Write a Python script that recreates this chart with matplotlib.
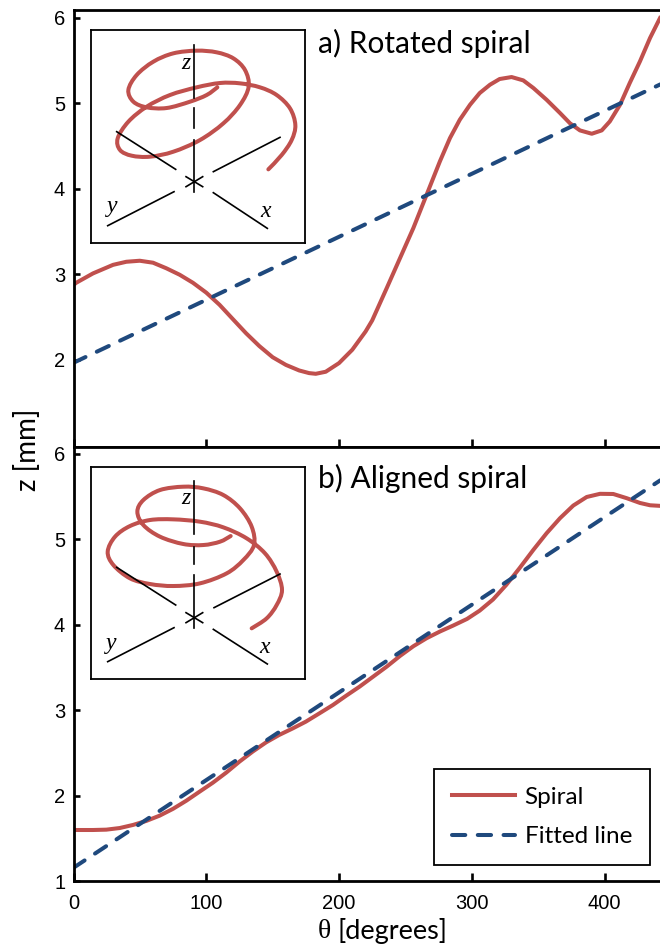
import matplotlib
matplotlib.use('Agg')
import matplotlib.pyplot as plt
from matplotlib.path import Path
from matplotlib.patches import PathPatch

# ---------- data ----------
theta_a = [0,2,14.7,29.8,39.8,49.9,59.9,69.9,80,90,100,110,120,130,140,150,160,170,177.5,182.5,190,200,210,220,225,236,246,256,266,276,283.6,291,298.7,306,313.7,321,330,338.8,346.4,356.4,366.5,374,381.5,390.4,397.9,404,411.7,419,426.7,434.3,441.8]
z_a = [2.875,2.90,3.01,3.11,3.146,3.158,3.135,3.07,2.994,2.90,2.785,2.643,2.476,2.31,2.16,2.03,1.94,1.875,1.844,1.836,1.86,1.961,2.117,2.33,2.46,2.84,3.19,3.54,3.93,4.32,4.593,4.807,4.982,5.119,5.216,5.283,5.306,5.267,5.178,5.04,4.885,4.765,4.682,4.643,4.682,4.787,4.982,5.236,5.489,5.763,5.996]
fit_x_a = [0,442]
fit_z_a = [1.965,5.22]

theta_b = [0,14.7,24.7,34.8,44.8,54.8,64.9,75,85,95,105,115,125,135,145.2,155,165,175,185,195.5,205.5,215.5,225.8,236,246,256,266,276,286,296.5,306,316,326,336,346.4,356.4,366.5,376.5,386.6,396.6,406.6,416.7,426.7,434.3,441.8]
z_b = [1.597,1.597,1.601,1.62,1.656,1.703,1.765,1.845,1.94,2.046,2.151,2.268,2.397,2.515,2.624,2.71,2.785,2.865,2.96,3.061,3.17,3.275,3.393,3.51,3.635,3.748,3.842,3.92,3.99,4.068,4.165,4.295,4.466,4.662,4.876,5.071,5.247,5.395,5.495,5.532,5.53,5.481,5.425,5.398,5.391]
fit_x_b = [0,442]
fit_z_b = [1.155,5.69]

x_ticks = [0,100,200,300,400]
y_ticks_a = [2,3,4,5,6]
y_ticks_b = [1,2,3,4,5,6]

# inset spirals, in inset sketch units
sp_a_x = [625,665,695,706,690,650,600,540,480,410,330,260,205,173,180,215,270,340,420,490,540,566,555,520,470,410,340,280,230,205,220,260,320,390,440,472]
sp_a_y = [508,465,420,375,325,285,262,250,249,262,285,320,365,415,450,467,470,455,420,370,315,260,210,175,157,152,160,185,225,270,305,322,324,305,285,262]
sp_b_x = [575,620,650,666,650,615,560,490,420,340,270,210,165,143,160,210,270,340,420,500,550,582,575,540,490,430,370,300,250,232,250,300,370,430,480,512]
sp_b_y = [565,535,495,450,395,340,295,262,245,238,240,258,290,335,375,415,432,438,430,400,360,315,260,205,165,145,140,150,180,215,255,290,312,315,305,288]

# inset axes lines (sketch units)
axes_a = [([403,403],[135,295]),([403,403],[325,385]),([403,403],[420,575]),
          ([143,342],[677,575]),([460,622],[578,685]),([170,347],[395,508]),([460,660],[515,412]),
          ([378,428],[530,560]),([378,428],[560,530])]
axes_b = [([403,403],[123,282]),([403,403],[322,373]),([403,403],[405,565]),
          ([143,342],[665,563]),([460,622],[568,672]),([170,347],[382,495]),([462,660],[503,402]),
          ([378,428],[518,548]),([378,428],[548,518])]

RED = '#C0504D'
BLUE = '#1F497D'
W, H = 660, 947
SANS = ['Lato', 'DejaVu Sans']
DASH = (3.3, 3.1)
LW = 2.9

fig = plt.figure(figsize=(W/100, H/100), dpi=100)

def rect(x0, y0, x1, y1):
    return [x0/W, 1 - y1/H, (x1-x0)/W, (y1-y0)/H]

def style(ax, yt, ylim):
    ax.set_xlim(0, 441.8)
    ax.set_ylim(*ylim)
    ax.set_xticks(x_ticks)
    ax.set_yticks(yt)
    ax.tick_params(axis='x', direction='in', length=6, width=1.9, labelsize=14.5, pad=9)
    ax.tick_params(axis='y', direction='in', length=4.5, width=1.9, labelsize=14.5, pad=6)
    for lab in ax.get_xticklabels() + ax.get_yticklabels():
        lab.set_family('Liberation Sans')
    for s in ax.spines.values():
        s.set_linewidth(2.0)
    ax.spines['right'].set_visible(False)

ax1 = fig.add_axes(rect(73.5, 10, 660, 447))
ax2 = fig.add_axes(rect(73.5, 447, 660, 881))
style(ax1, y_ticks_a, (0.98, 6.09))
style(ax2, y_ticks_b, (1.0, 6.08))
ax1.tick_params(labelbottom=False)

ax1.plot(theta_a, z_a, color=RED, lw=LW, solid_joinstyle='round')
ax1.plot(fit_x_a, fit_z_a, color=BLUE, lw=LW, dashes=DASH, dash_capstyle='round')
l1, = ax2.plot(theta_b, z_b, color=RED, lw=LW, solid_joinstyle='round', label='Spiral')
l2, = ax2.plot(fit_x_b, fit_z_b, color=BLUE, lw=LW, dashes=DASH, dash_capstyle='round', label='Fitted line')

fig.text(318/W, 1-43/H, 'a) Rotated spiral', family=SANS, fontsize=21.5, va='center', ha='left')
fig.text(318/W, 1-478/H, 'b) Aligned spiral', family=SANS, fontsize=21.5, va='center', ha='left')
fig.text(27/W, 1-450/H, 'z [mm]', family=SANS, fontsize=20, rotation=90, va='center', ha='center')
fig.text(318/W, 1-931/H, '\u03b8', family='Liberation Serif', fontsize=20, va='center', ha='left')
fig.text(338/W, 1-931/H, '[degrees]', family=SANS, fontsize=19.5, va='center', ha='left')

leg = ax2.legend(handles=[l1, l2], frameon=True,
                 prop={'family': SANS, 'size': 17.5}, fancybox=False, edgecolor='black', framealpha=1,
                 handlelength=2.6, handletextpad=0.38, borderpad=0.75, labelspacing=0.75,
                 loc='center', bbox_to_anchor=rect(432, 768, 652, 866), bbox_transform=fig.transFigure, borderaxespad=0)
leg.get_frame().set_linewidth(1.3)

def smooth_path(xs, ys):
    """Bezier path passing through the read points."""
    pts = list(zip(xs, ys))
    verts = [pts[0]]
    codes = [Path.MOVETO]
    for i in range(len(pts)-1):
        p0 = pts[max(i-1, 0)]
        p1 = pts[i]
        p2 = pts[i+1]
        p3 = pts[min(i+2, len(pts)-1)]
        c1 = (p1[0] + (p2[0]-p0[0])/6, p1[1] + (p2[1]-p0[1])/6)
        c2 = (p2[0] - (p3[0]-p1[0])/6, p2[1] - (p3[1]-p1[1])/6)
        verts += [c1, c2, p2]
        codes += [Path.CURVE4]*3
    return Path(verts, codes)

def inset(box, ylim, xs, ys, lines, labels):
    ax = fig.add_axes(rect(*box))
    ax.set_xlim(92, 735)
    ax.set_ylim(ylim[1], ylim[0])
    ax.set_xticks([]); ax.set_yticks([])
    for s in ax.spines.values():
        s.set_linewidth(1.3)
    for lx, ly in lines:
        ax.plot(lx, ly, color='black', lw=1.2)
    ax.add_patch(PathPatch(smooth_path(xs, ys), fill=False, edgecolor=RED, lw=LW, capstyle='round'))
    for t, x, y in labels:
        ax.text(x, y, t, family='Liberation Serif', style='italic', fontsize=17, ha='center', va='center')

inset((90.7, 30, 305, 242.7), (90, 728), sp_a_x, sp_a_y, axes_a, [('z',377,190),('y',157,620),('x',617,634)])
inset((90.7, 466.7, 305, 679), (80, 717), sp_b_x, sp_b_y, axes_b, [('z',377,176),('y',155,610),('x',615,622)])

fig.savefig('out.png', dpi=100)
